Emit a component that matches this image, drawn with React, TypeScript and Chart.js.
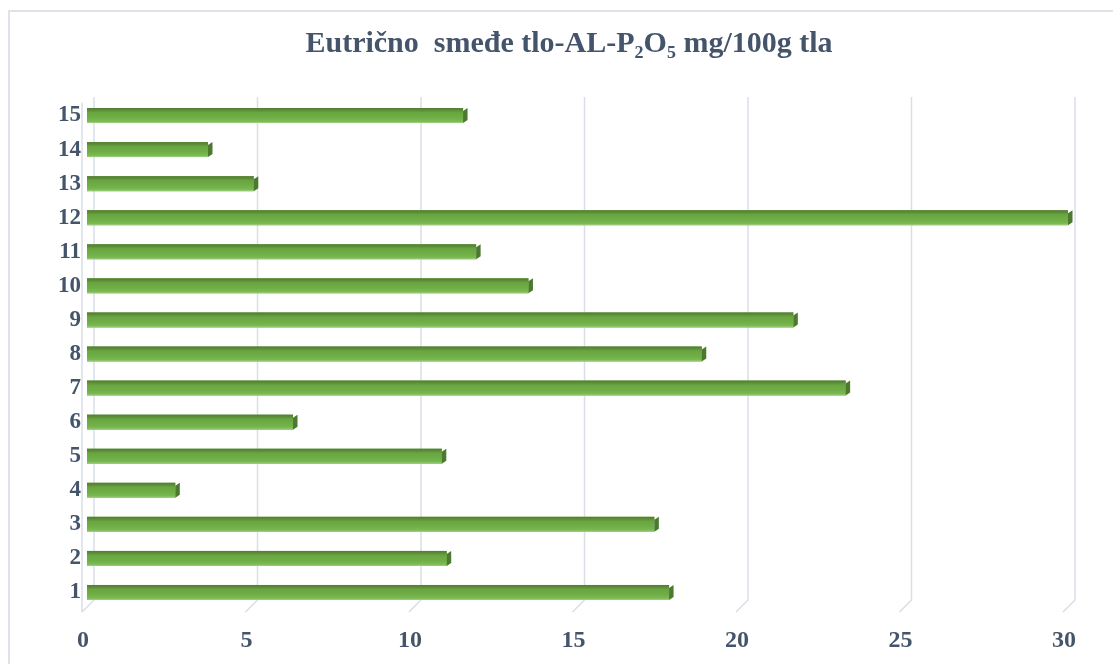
import React, { useEffect, useRef } from "react";
import { Chart, registerables } from "chart.js";

Chart.register(...registerables);

const categories = ["1", "2", "3", "4", "5", "6", "7", "8", "9", "10", "11", "12", "13", "14", "15"];
const values = [17.8, 11.0, 17.35, 2.7, 10.85, 6.3, 23.2, 18.8, 21.6, 13.5, 11.9, 30, 5.1, 3.7, 11.5];
const xTicks = [0, 5, 10, 15, 20, 25, 30];
const titleText = "Eutrično  smeđe tlo-AL-P₂O₅ mg/100g tla";

const FONT = '"Liberation Serif", "Times New Roman", serif';
const TEXT_COLOR = "#44546A";
const GRID_COLOR = "#D9DEE7";

// let the y labels use the space left of the (narrow) y axis box
const widenY = {
  id: "widenY",
  afterLayout(chart: any) {
    const ys = chart.scales.y;
    if (ys) ys.left = 0;
  },
};

const grid3d = {
  id: "grid3d",
  beforeDatasetsDraw(chart: any) {
    const xs = chart.scales.x;
    const a = chart.chartArea;
    const ctx = chart.ctx;
    ctx.save();
    ctx.strokeStyle = GRID_COLOR;
    ctx.lineWidth = 1.5;
    for (const v of xTicks) {
      const bx = xs.getPixelForValue(v) + 7;
      ctx.beginPath();
      ctx.moveTo(bx, a.top - 1.5);
      ctx.lineTo(bx, a.bottom - 9.5);
      ctx.lineTo(bx - 12, a.bottom + 2.5);
      ctx.stroke();
    }
    const lx = xs.getPixelForValue(0) - 5;
    ctx.beginPath();
    ctx.moveTo(lx, a.top + 4);
    ctx.lineTo(lx, a.bottom + 2.5);
    ctx.stroke();
    ctx.restore();
  },
};

const bar3d = {
  id: "bar3d",
  afterDatasetsDraw(chart: any) {
    const ctx = chart.ctx;
    const meta = chart.getDatasetMeta(0);
    ctx.save();
    meta.data.forEach((el: any) => {
      const p = el.getProps(["x", "y", "base", "height"], true);
      const top = p.y - p.height / 2;
      const bot = p.y + p.height / 2;
      const left = Math.min(p.base, p.x);
      const right = Math.max(p.base, p.x);
      const g = ctx.createLinearGradient(0, top, 0, bot);
      g.addColorStop(0, "#507C31");
      g.addColorStop(0.16, "#5E8F38");
      g.addColorStop(0.3, "#69A640");
      g.addColorStop(0.65, "#70AE47");
      g.addColorStop(0.88, "#7ABA52");
      g.addColorStop(1, "#A3CF85");
      ctx.fillStyle = g;
      ctx.fillRect(left, top, right - left, bot - top);
      ctx.fillStyle = "#4B792D";
      ctx.beginPath();
      ctx.moveTo(right, top + 3);
      ctx.lineTo(right + 4.5, top);
      ctx.lineTo(right + 4.5, bot - 3);
      ctx.lineTo(right, bot);
      ctx.closePath();
      ctx.fill();
    });
    ctx.restore();
  },
};

export default function App() {
  const ref = useRef<HTMLCanvasElement | null>(null);

  useEffect(() => {
    if (!ref.current) return;
    const chart = new Chart(ref.current, {
      type: "bar",
      data: {
        labels: categories,
        datasets: [
          {
            data: values,
            backgroundColor: "#70AD47",
            borderWidth: 0,
            categoryPercentage: 1,
            barPercentage: 0.44,
          },
        ],
      },
      options: {
        indexAxis: "y",
        animation: false,
        responsive: false,
        devicePixelRatio: 1,
        layout: { padding: { left: 70, right: 45, top: 0, bottom: 0 } },
        plugins: {
          legend: { display: false },
          tooltip: { enabled: false },
          title: {
            display: true,
            text: titleText,
            color: TEXT_COLOR,
            font: { family: FONT, size: 30, weight: "bold", lineHeight: 1.2 },
            padding: { top: 26, bottom: 36.5 },
          },
        },
        scales: {
          x: {
            type: "linear",
            min: 0,
            max: 30,
            afterBuildTicks: (s: any) => {
              s.ticks = xTicks.map((v) => ({ value: v }));
            },
            afterFit: (s: any) => {
              s.height = 54.5;
            },
            grid: { display: false, drawTicks: false },
            border: { display: false },
            ticks: {
              color: TEXT_COLOR,
              font: { family: FONT, size: 24, weight: "bold" },
              padding: 17,
              labelOffset: -4,
              maxRotation: 0,
            },
          },
          y: {
            reverse: true,
            afterFit: (s: any) => {
              s.width = 17;
            },
            grid: { display: false, drawTicks: false },
            border: { display: false },
            ticks: {
              color: TEXT_COLOR,
              font: { family: FONT, size: 23, weight: "bold" },
              padding: 6,
            },
          },
        },
      },
      plugins: [widenY, grid3d, bar3d],
    } as any);
    return () => chart.destroy();
  }, []);

  return (
    <div
      style={{
        position: "fixed",
        left: 0,
        top: 0,
        width: 1113,
        height: 664,
        overflow: "hidden",
        background: "#ffffff",
      }}
    >
      <div
        style={{
          position: "absolute",
          left: 8,
          top: 10,
          width: 1200,
          height: 800,
          border: "2px solid #DFE3E9",
        }}
      />
      <canvas
        ref={ref}
        width={1113}
        height={664}
        style={{ position: "absolute", left: 0, top: 0, display: "block" }}
      />
    </div>
  );
}
